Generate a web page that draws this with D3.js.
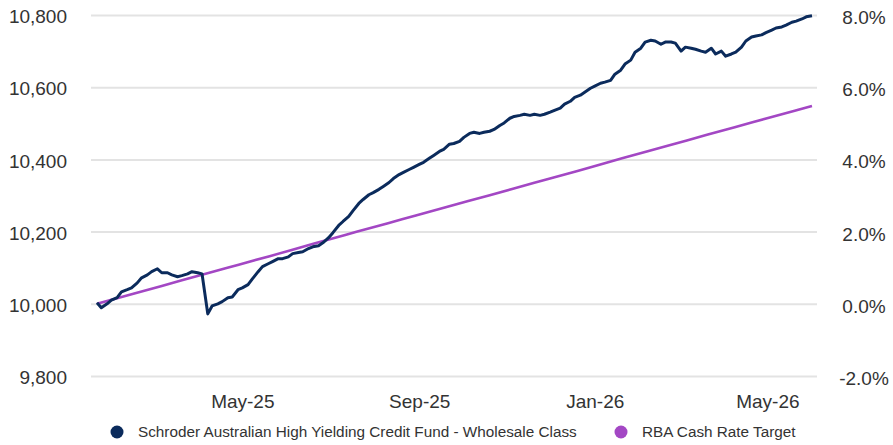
<!DOCTYPE html>
<html>
<head>
<meta charset="utf-8">
<script src="https://cdn.jsdelivr.net/npm/d3@7"></script>
<style>
  html, body { margin: 0; padding: 0; background: #fff; }
  svg { display: block; font-family: "Liberation Sans", Arial, Helvetica, sans-serif; }
</style>
</head>
<body>
<svg id="chart" width="893" height="445"></svg>
<script>
// Growth of $10,000: observations twice a week (Mondays and Thursdays)
const obsStart = "2025-01-20";
const obsEnd = "2026-06-01";

const fundValues = [
  10003, 9989, 10000, 10010, 10017, 10033, 10039, 10044, 10058, 10072,
  10080, 10089, 10097, 10086, 10086, 10080, 10075, 10078, 10083, 10089,
  10086, 10083, 9972, 9994, 10000, 10006, 10017, 10019, 10039, 10044,
  10053, 10069, 10089, 10103, 10111, 10117, 10125, 10125, 10130, 10139,
  10142, 10144, 10153, 10158, 10161, 10169, 10183, 10197, 10217, 10228,
  10242, 10258, 10278, 10289, 10302, 10308, 10317, 10325, 10336, 10347,
  10358, 10364, 10372, 10378, 10386, 10392, 10403, 10411, 10422, 10428,
  10442, 10444, 10450, 10461, 10472, 10475, 10472, 10475, 10478, 10483,
  10494, 10501, 10514, 10519, 10522, 10525, 10522, 10525, 10522, 10525,
  10531, 10536, 10542, 10553, 10561, 10572, 10578, 10586, 10597, 10603,
  10611, 10614, 10619, 10636, 10647, 10664, 10675, 10697, 10708, 10725,
  10730, 10728, 10719, 10725, 10725, 10722, 10700, 10711, 10708, 10705,
  10700, 10697, 10708, 10692, 10700, 10686, 10692, 10697, 10711, 10728,
  10739, 10742, 10745, 10751, 10758, 10764, 10767, 10772, 10780, 10783,
  10789, 10795, 10798
];

// Cumulative return of the RBA cash rate target (%)
const rbaDates = [
  "2025-01-20", "2025-02-20", "2025-03-20", "2025-04-20", "2025-05-20",
  "2025-06-20", "2025-07-20", "2025-08-20", "2025-09-20", "2025-10-20",
  "2025-11-20", "2025-12-20", "2026-01-20", "2026-02-20", "2026-03-20",
  "2026-04-20", "2026-05-20", "2026-06-01"
];
const rbaValues = [
  0.00, 0.34, 0.65, 0.99, 1.32, 1.67, 2.00, 2.34, 2.68, 3.01,
  3.35, 3.68, 4.03, 4.37, 4.68, 5.02, 5.35, 5.48
];

const leftTicks = [9800, 10000, 10200, 10400, 10600, 10800];
const rightTicks = [-2, 0, 2, 4, 6, 8];
const xTickDates = ["2025-05-01", "2025-09-01", "2026-01-01", "2026-05-01"];

const seriesNames = [
  "Schroder Australian High Yielding Credit Fund - Wholesale Class",
  "RBA Cash Rate Target"
];
const seriesColors = ["#0b2b5c", "#a347c4"];

// ---- layout ----
const svg = d3.select("#chart");
const plotLeft = 91, plotRight = 817, plotTop = 15, plotBottom = 376;
const lineLeft = 97, lineRight = 812;
const textColor = "#333333";

const parse = d3.utcParse("%Y-%m-%d");

// observation dates: every Monday and Thursday in the period
const t0 = parse(obsStart);
const t1 = d3.utcDay.offset(parse(obsEnd), 1);
const obsDates = d3.merge([d3.utcMonday.range(t0, t1), d3.utcThursday.range(t0, t1)])
  .sort(d3.ascending);
const n = Math.min(obsDates.length, fundValues.length);
const fundData = d3.range(n).map(i => ({ date: obsDates[i], value: fundValues[i] }));
const rbaData = rbaDates.map((d, i) => ({ date: parse(d), value: rbaValues[i] }));

const x = d3.scaleUtc()
  .domain([parse(obsStart), parse(obsEnd)])
  .range([lineLeft, lineRight]);

const y = d3.scaleLinear().domain([9800, 10800]).range([plotBottom, plotTop]);
const y2 = d3.scaleLinear().domain([-2, 8]).range([plotBottom, plotTop]);

// ---- gridlines ----
const grid = svg.append("g")
  .attr("transform", `translate(${plotLeft},0)`)
  .call(d3.axisLeft(y).tickValues(leftTicks).tickSize(-(plotRight - plotLeft)).tickFormat(""));
grid.select(".domain").remove();
grid.selectAll("line").attr("stroke", "#e3e3e3").attr("stroke-width", 2);

// ---- left axis ----
const yAxis = svg.append("g")
  .attr("transform", `translate(${plotLeft},0)`)
  .call(d3.axisLeft(y).tickValues(leftTicks).tickSize(0).tickPadding(24)
    .tickFormat(d3.format(",")));
yAxis.select(".domain").remove();
yAxis.selectAll("text")
  .attr("fill", textColor)
  .attr("font-size", 19)
  .attr("dy", "0.4em")
  .style("font-family", "'Liberation Sans', Arial, sans-serif");

// ---- right axis (plain hyphen for negatives) ----
const pct = d => d3.format(".1f")(d).replace("\u2212", "-") + "%";
const y2Axis = svg.append("g")
  .attr("transform", `translate(${plotRight},0)`)
  .call(d3.axisRight(y2).tickValues(rightTicks).tickSize(0).tickFormat(pct));
y2Axis.select(".domain").remove();
y2Axis.selectAll("text")
  .attr("x", 47)
  .attr("text-anchor", "middle")
  .attr("fill", textColor)
  .attr("font-size", 19)
  .attr("dy", "0.45em")
  .style("font-family", "'Liberation Sans', Arial, sans-serif");

// ---- bottom axis ----
const xAxis = svg.append("g")
  .attr("transform", `translate(0,${plotBottom})`)
  .call(d3.axisBottom(x).tickValues(xTickDates.map(parse)).tickSize(0).tickPadding(19)
    .tickFormat(d3.utcFormat("%b-%y")));
xAxis.select(".domain").remove();
xAxis.selectAll("text")
  .attr("fill", textColor)
  .attr("font-size", 19)
  .style("font-family", "'Liberation Sans', Arial, sans-serif");

// ---- lines ----
const fundLine = d3.line().x(d => x(d.date)).y(d => y(d.value)).curve(d3.curveLinear);
const rbaLine = d3.line().x(d => x(d.date)).y(d => y2(d.value)).curve(d3.curveMonotoneX);

svg.append("path")
  .datum(rbaData)
  .attr("fill", "none")
  .attr("stroke", seriesColors[1])
  .attr("stroke-width", 2.6)
  .attr("d", rbaLine);

svg.append("path")
  .datum(fundData)
  .attr("fill", "none")
  .attr("stroke", seriesColors[0])
  .attr("stroke-width", 3)
  .attr("stroke-linejoin", "round")
  .attr("d", fundLine);

// ---- legend ----
const legendY = 432;
const legendX = [117, 621];
const legend = svg.append("g");
seriesNames.forEach((name, i) => {
  legend.append("circle")
    .attr("cx", legendX[i]).attr("cy", legendY).attr("r", 6.5)
    .attr("fill", seriesColors[i]);
  legend.append("text")
    .attr("x", legendX[i] + 21).attr("y", legendY)
    .attr("dy", "0.35em")
    .attr("fill", textColor)
    .attr("font-size", 15.3)
    .text(name);
});
</script>
</body>
</html>
